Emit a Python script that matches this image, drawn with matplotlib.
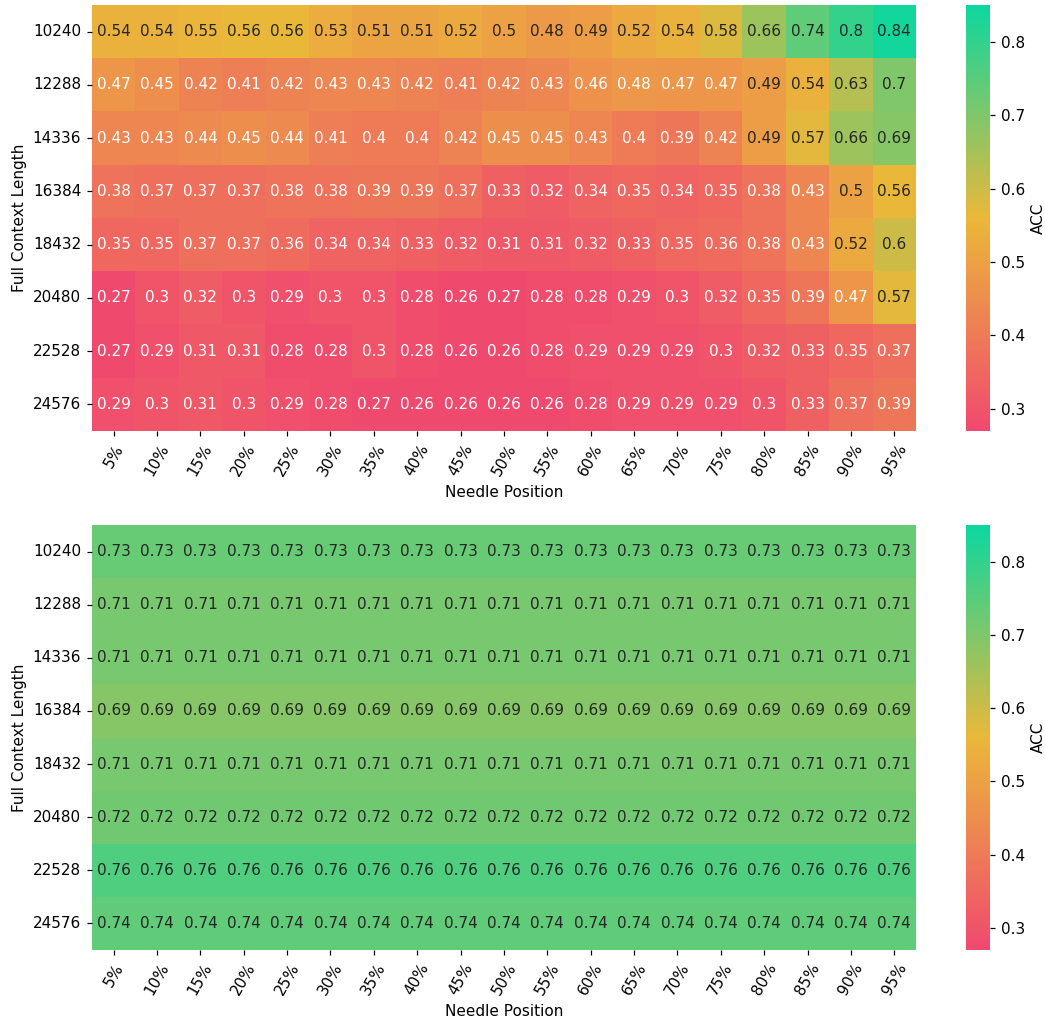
import numpy as np
import matplotlib
matplotlib.use('Agg')
import matplotlib.pyplot as plt
import seaborn as sns
from matplotlib.colors import LinearSegmentedColormap

context_lengths = [10240, 12288, 14336, 16384, 18432, 20480, 22528, 24576]
needle_positions = ['5%', '10%', '15%', '20%', '25%', '30%', '35%', '40%', '45%', '50%',
                    '55%', '60%', '65%', '70%', '75%', '80%', '85%', '90%', '95%']

acc_top = [
    [0.54, 0.54, 0.55, 0.56, 0.56, 0.53, 0.51, 0.51, 0.52, 0.5, 0.48, 0.49, 0.52, 0.54, 0.58, 0.66, 0.74, 0.8, 0.84],
    [0.47, 0.45, 0.42, 0.41, 0.42, 0.43, 0.43, 0.42, 0.41, 0.42, 0.43, 0.46, 0.4752, 0.47, 0.47, 0.49, 0.54, 0.63, 0.7],
    [0.43, 0.43, 0.44, 0.45, 0.44, 0.41, 0.4, 0.4, 0.42, 0.45, 0.45, 0.43, 0.4, 0.39, 0.42, 0.49, 0.57, 0.66, 0.69],
    [0.38, 0.37, 0.37, 0.37, 0.38, 0.38, 0.39, 0.39, 0.37, 0.33, 0.32, 0.34, 0.35, 0.34, 0.35, 0.38, 0.43, 0.5, 0.56],
    [0.35, 0.35, 0.37, 0.37, 0.36, 0.34, 0.34, 0.33, 0.32, 0.31, 0.31, 0.32, 0.33, 0.35, 0.36, 0.38, 0.43, 0.52, 0.6],
    [0.27, 0.3, 0.32, 0.3, 0.29, 0.3, 0.3, 0.28, 0.26, 0.27, 0.28, 0.28, 0.29, 0.3, 0.32, 0.35, 0.39, 0.47, 0.57],
    [0.27, 0.29, 0.31, 0.31, 0.28, 0.28, 0.3, 0.28, 0.26, 0.26, 0.28, 0.29, 0.29, 0.29, 0.3, 0.32, 0.33, 0.35, 0.37],
    [0.29, 0.3, 0.31, 0.3, 0.29, 0.28, 0.27, 0.26, 0.26, 0.26, 0.26, 0.28, 0.29, 0.29, 0.29, 0.3, 0.33, 0.37, 0.39],
]

# bottom model: same value across all needle positions
acc_bottom_rows = [0.73, 0.71, 0.71, 0.69, 0.71, 0.72, 0.76, 0.74]
acc_bottom = [[v] * len(needle_positions) for v in acc_bottom_rows]

cmap = LinearSegmentedColormap.from_list("custom_cmap", ["#F0496E", "#EBB839", "#0CD79F"])
vmin, vmax = 0.27, 0.85

DPI = 110
fig = plt.figure(figsize=(1045 / DPI, 1020 / DPI), dpi=DPI)
panels = [
    (acc_top, [0.088, 0.5775, 0.7885, 0.4176], [0.9244, 0.5775, 0.023, 0.4176]),
    (acc_bottom, [0.088, 0.0686, 0.7885, 0.4167], [0.9244, 0.0686, 0.023, 0.4167]),
]

for data, ax_rect, cb_rect in panels:
    ax = fig.add_axes(ax_rect)
    cax = fig.add_axes(cb_rect)
    sns.heatmap(np.array(data), ax=ax, cbar_ax=cax, annot=True, cmap=cmap,
                vmin=vmin, vmax=vmax, xticklabels=needle_positions,
                yticklabels=context_lengths, cbar_kws={'label': 'ACC'})
    ax.set_xlabel('Needle Position')
    ax.set_ylabel('Full Context Length')
    ax.set_xticklabels(needle_positions, rotation=60)
    ax.set_yticklabels(context_lengths, rotation=0)
    cax.set_yticks([0.3, 0.4, 0.5, 0.6, 0.7, 0.8])

fig.savefig('out.png', dpi=DPI)
